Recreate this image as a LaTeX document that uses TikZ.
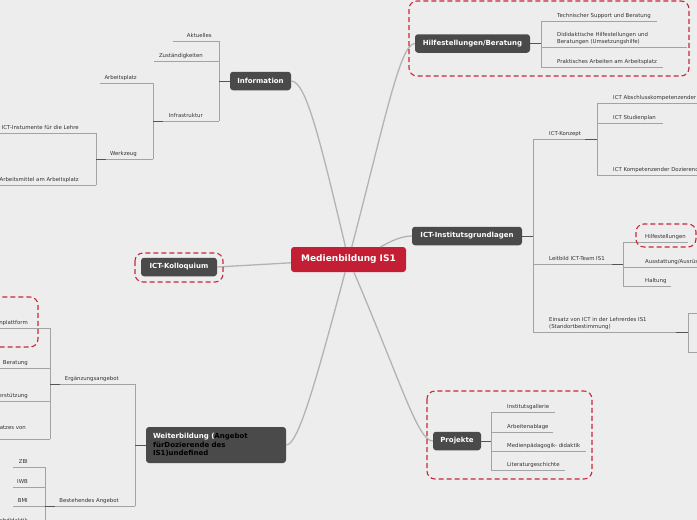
\documentclass[tikz,border=0pt]{standalone}
\usepackage{fontspec}
\setmainfont{DejaVu Sans}
\definecolor{canvas}{HTML}{EDEDED}
\definecolor{nodegray}{HTML}{4A4A4A}
\definecolor{rootred}{HTML}{C41E34}
\definecolor{dashred}{HTML}{C8283C}
\definecolor{linkgray}{HTML}{B3B3B3}
\definecolor{twiggray}{HTML}{A3A3A3}
\definecolor{stubgray}{HTML}{555555}
\definecolor{textgray}{HTML}{333333}
\tikzset{
  root/.style={fill=rootred,text=white,rounded corners=3pt,minimum width=115pt,minimum height=25pt,inner sep=0pt,font=\bfseries\fontsize{9}{10}\selectfont},
  branch/.style={fill=nodegray,text=white,rounded corners=3pt,minimum height=18.5pt,inner sep=0pt,font=\bfseries\fontsize{7}{8.5}\selectfont},
  topic/.style={inner sep=0pt,text depth=1.3pt,text=textgray,align=left,font=\fontsize{5.4}{7}\selectfont},
  link/.style={draw=linkgray,line width=1.3pt},
  twig/.style={draw=twiggray,line width=0.8pt},
  stub/.style={draw=stubgray,line width=1pt},
  group box/.style={draw=dashred,dash pattern=on 5pt off 3pt,line width=1.1pt,rounded corners=8pt},
}
% topic on the right of its bracket: [pad]{name}{x left}{x right}{y}{text}
\newcommand{\topicR}[6][16]{%
  \coordinate (#2-l) at (#3,#5);
  \coordinate (#2-r) at (#4,#5);
  \draw[twig] (#2-l) -- (#2-r);
  \node[topic,anchor=south west] (#2) at ([xshift=#1pt,yshift=2pt]#2-l) {#6};}
% topic on the left of its bracket
\newcommand{\topicL}[6][16]{%
  \coordinate (#2-l) at (#3,#5);
  \coordinate (#2-r) at (#4,#5);
  \draw[twig] (#2-l) -- (#2-r);
  \node[topic,anchor=south east,align=right] (#2) at ([xshift=-#1pt,yshift=2pt]#2-r) {#6};}

\begin{document}
\begin{tikzpicture}[x=1pt,y=-1pt]
  \useasboundingbox (0,0) rectangle (697,520);
  \clip (0,0) rectangle (697,520);
  \fill[canvas] (0,0) rectangle (697,520);

  % main nodes
  \node[root] (root) at (348.5,259.5) {Medienbildung IS1};
  \node[branch,minimum width=61pt] (info) at (260.5,81) {Information};
  \node[branch,minimum width=115pt] (hilfe) at (472.5,43.5) {Hilfestellungen/Beratung};
  \node[branch,minimum width=110pt] (grund) at (467,236) {ICT-Institutsgrundlagen};
  \node[branch,minimum width=76pt] (kollo) at (179,267) {ICT-Kolloquium};
  \node[branch,minimum width=48pt] (projekte) at (457,441) {Projekte};
  \node[branch,minimum height=36pt,text width=126pt,inner xsep=7pt,align=left,text=black] (weiter) at (216,445)
    {\textcolor{white}{Weiterbildung (}Angebot\\fürDozierende des\\IS1)undefined};

  \draw[link] (root) .. controls (320,140) and (306,81) .. (info.east);
  \draw[link] (root) .. controls (385,120) and (400,44) .. (hilfe.west);
  \draw[link] (root) .. controls (385,245) and (398,236) .. (grund.west);
  \draw[link] (root) -- (kollo.east);
  \draw[link] (root) .. controls (402,385) and (418,441) .. (projekte.west);
  \draw[link] (root) .. controls (315,385) and (298,445) .. (weiter.east);

  % Information
  \topicL[7]{aktuelles}{173}{219}{41}{Aktuelles}
  \topicL{zustaendig}{154}{219}{61}{Zuständigkeiten}
  \topicL{infra}{153}{219}{121}{Infrastruktur}
  \draw[twig] (aktuelles-r) -- (infra-r);
  \draw[stub] (info.west) -- (info.west -| aktuelles-r);
  \topicL{arbeitsplatz}{100}{153}{83}{Arbeitsplatz}
  \topicL{werkzeug}{96}{153}{159}{Werkzeug}
  \draw[twig] (arbeitsplatz-r) -- (werkzeug-r);
  \draw[stub] (infra-l) -- ([xshift=10pt]infra-l);
  \topicL[17]{instrumente}{-5}{96}{133}{ICT-Instumente für die Lehre}
  \topicL[17]{arbeitsmittel}{-5}{96}{185}{Arbeitsmittel am Arbeitsplatz}
  \draw[twig] (instrumente-r) -- (arbeitsmittel-r);
  \draw[stub] (werkzeug-l) -- ([xshift=10pt]werkzeug-l);

  % Hilfestellungen/Beratung
  \topicR{support}{541}{657}{21}{Technischer Support und Beratung}
  \topicR{didaktik}{541}{687}{47}{Dididaktische Hilfestellungen und\\Beratungen (Umsetzungshilfe)}
  \topicR{praxis}{541}{663}{67}{Praktisches Arbeiten am Arbeitsplatz}
  \draw[twig] (support-l) -- (praxis-l);
  \draw[stub] (hilfe.east) -- (hilfe.east -| support-l);
  \draw[group box] (409,1) rectangle (689,76);

  % ICT-Institutsgrundlagen
  \topicR{konzept}{533}{597}{139}{ICT-Konzept}
  \topicR{leitbild}{533}{623}{264}{Leitbild ICT-Team IS1}
  \topicR{einsatz}{533}{688}{332}{Einsatz von ICT in der Lehrerdes IS1\\(Standortbestimmung)}
  \draw[twig] (konzept-l) -- (einsatz-l);
  \draw[stub] (grund.east) -- (grund.east -| konzept-l);
  \topicR{abschluss}{597}{705}{103}{ICT Abschlusskompetenzender}
  \topicR{studienplan}{597}{663}{123}{ICT Studienplan}
  \topicR{kompetenz}{597}{705}{175}{ICT Kompetenzender Dozierenden}
  \draw[twig] (abschluss-l) -- (kompetenz-l);
  \draw[stub] ([xshift=-12pt]konzept-r) -- (konzept-r);
  \topicR[22]{hilfen}{623}{688}{242}{Hilfestellungen}
  \topicR[22]{ausstattung}{623}{705}{267}{Ausstattung/Ausrüstung}
  \topicR[22]{haltung}{623}{671}{286}{Haltung}
  \draw[twig] (hilfen-l) -- (haltung-l);
  \draw[stub] ([xshift=-11pt]leitbild-r) -- (leitbild-r);
  \draw[group box] (636,224) rectangle (696,247);
  \topicR{einsatzA}{688}{705}{313}{}
  \topicR{einsatzB}{688}{705}{352}{}
  \draw[twig] (einsatzA-l) -- (einsatzB-l);
  \draw[stub] ([xshift=-12pt]einsatz-r) -- (einsatz-r);

  % ICT-Kolloquium
  \draw[group box] (135,253) rectangle (223,282);

  % Projekte
  \topicR{galerie}{491}{555}{412}{Institutsgallerie}
  \topicR{ablage}{491}{553}{432}{Arbeitenablage}
  \topicR{medien}{491}{586}{451}{Medienpädagogik- didaktik}
  \topicR{literatur}{491}{565}{470}{Literaturgeschichte}
  \draw[twig] (galerie-l) -- (literatur-l);
  \draw[stub] (projekte.east) -- (projekte.east -| galerie-l);
  \draw[group box] (427,391) rectangle (592,479);

  % Weiterbildung
  \topicL{ergaenzung}{50}{135}{384}{Ergänzungsangebot}
  \topicL{bestehend}{45}{135}{506}{Bestehendes Angebot}
  \draw[twig] (ergaenzung-r) -- (bestehend-r);
  \draw[stub] (weiter.west) -- (weiter.west -| ergaenzung-r);
  \topicL[22]{plattform}{-5}{50}{328}{nplattform}
  \topicL[22]{beratung}{-5}{50}{368}{Beratung}
  \topicL[22]{unterstuetzung}{-5}{50}{401}{erstützung}
  \coordinate (einsatzes-l) at (-5,439);
  \coordinate (einsatzes-r) at (50,439);
  \draw[twig] (einsatzes-l) -- (einsatzes-r);
  \node[topic,anchor=south east] (einsatzes) at ([xshift=-24pt,yshift=8pt]einsatzes-r) {atzes von};
  \draw[twig] (plattform-r) -- (einsatzes-r);
  \draw[stub] (ergaenzung-l) -- ([xshift=10pt]ergaenzung-l);
  \draw[group box] (-10,297) rectangle (38,347);
  \topicL[17]{zbi}{13}{45}{467}{ZBI}
  \topicL[17]{iwb}{13}{45}{487}{IWB}
  \topicL[17]{bmi}{13}{45}{506}{BMI}
  \topicL[17]{fachdid}{-5}{45}{526}{Fachdidaktik}
  \draw[twig] (zbi-r) -- (fachdid-r);
  \draw[stub] (bestehend-l) -- ([xshift=10pt]bestehend-l);
\end{tikzpicture}
\end{document}
